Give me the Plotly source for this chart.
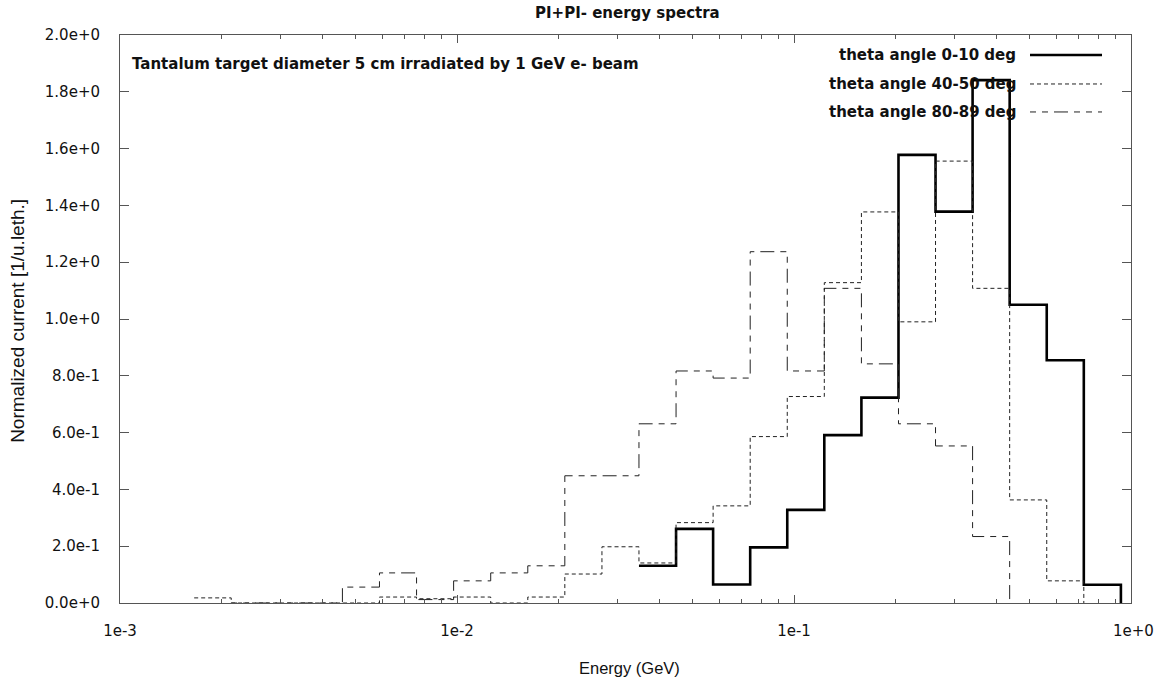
import plotly.graph_objects as go

# Bin edges (GeV), log-spaced
edges = [0.001000, 0.001288, 0.001660, 0.002138, 0.002754, 0.003548, 0.004571,
         0.005888, 0.007586, 0.009772, 0.01259, 0.01622, 0.02089, 0.02692,
         0.03467, 0.04467, 0.05754, 0.07413, 0.09550, 0.1230, 0.1585, 0.2042,
         0.2630, 0.3388, 0.4365, 0.5623, 0.7244, 0.9333]

# theta angle 0-10 deg, bins 14..26
start_0_10 = 14
theta_0_10 = [0.131, 0.261, 0.065, 0.196, 0.328, 0.591, 0.723, 1.578, 1.378,
              1.841, 1.050, 0.855, 0.064]

# theta angle 40-50 deg, bins 2..25
start_40_50 = 2
theta_40_50 = [0.018, 0, 0, 0, 0, 0.021, 0.015, 0.021, 0, 0.021, 0.102, 0.198,
               0.141, 0.283, 0.342, 0.586, 0.727, 1.128, 1.377, 0.990, 1.556,
               1.108, 0.363, 0.078]

# theta angle 80-89 deg, bins 3..23
start_80_89 = 3
theta_80_89 = [0, 0, 0, 0.056, 0.106, 0.012, 0.078, 0.106, 0.131, 0.448, 0.448,
               0.631, 0.817, 0.792, 1.237, 0.817, 1.108, 0.842, 0.631, 0.553,
               0.234]

y_ticks = [0.0, 0.2, 0.4, 0.6, 0.8, 1.0, 1.2, 1.4, 1.6, 1.8, 2.0]
y_ticktext = ["0.0e+0", "2.0e-1", "4.0e-1", "6.0e-1", "8.0e-1", "1.0e+0",
              "1.2e+0", "1.4e+0", "1.6e+0", "1.8e+0", "2.0e+0"]
x_ticks = [0.001, 0.01, 0.1, 1.0]
x_ticktext = ["1e-3", "1e-2", "1e-1", "\u00a0" + "1e+0"]
x_minor = [m * d for d in (0.001, 0.01, 0.1) for m in range(2, 10)]

series = [
    ("theta angle 0-10 deg", start_0_10, theta_0_10, dict(color="#000000", width=2.6, dash="solid")),
    ("theta angle 40-50 deg", start_40_50, theta_40_50, dict(color="#222222", width=1, dash="4px,3px")),
    ("theta angle 80-89 deg", start_80_89, theta_80_89, dict(color="#222222", width=1, dash="6px,6px,6px,6px,14px,6px")),
]

BOLD = "DejaVu Sans"
PLAIN = "Liberation Sans, Arial, sans-serif"

fig = go.Figure()
for name, s, vals, line in series:
    xs = edges[s:s + len(vals) + 1]
    ys = list(vals) + [0]
    fig.add_trace(go.Scatter(x=xs, y=ys, mode="lines", line=line,
                             line_shape="hv", name=name, showlegend=False,
                             hoverinfo="skip"))

# Manual legend (text right-aligned, sample on the right)
L, R, T, B = 120, 1131, 35, 603.3
def px(x):
    return (x - L) / (R - L)
def py(y):
    return (B - y) / (B - T)

rows = [55, 84, 112]
annotations = []
shapes = []
for (name, s, vals, line), ry in zip(series, rows):
    annotations.append(dict(xref="paper", yref="paper", x=px(1018), y=py(ry),
                            text=f"<b>{name}</b>", showarrow=False,
                            xanchor="right", yanchor="middle",
                            font=dict(family=BOLD, size=15, color="#111")))
    shapes.append(dict(type="line", xref="paper", yref="paper",
                       x0=px(1030), x1=px(1102), y0=py(ry), y1=py(ry),
                       line=line))

annotations.append(dict(xref="paper", yref="paper", x=px(130), y=py(64),
                        text="<b>Tantalum target diameter 5 cm irradiated by 1 GeV e- beam</b>",
                        showarrow=False, xanchor="left", yanchor="middle",
                        font=dict(family=BOLD, size=15, color="#111")))
annotations.append(dict(xref="paper", yref="paper", x=px(18), y=py(321),
                        text="Normalized current [1/u.leth.]", textangle=-90,
                        showarrow=False, xanchor="center", yanchor="middle",
                        font=dict(family=PLAIN, size=19, color="#111")))
annotations.append(dict(xref="paper", yref="paper", x=px(629), y=py(668),
                        text="Energy (GeV)",
                        showarrow=False, xanchor="center", yanchor="middle",
                        font=dict(family=PLAIN, size=16.5, color="#111")))
annotations.append(dict(xref="paper", yref="paper", x=px(627), y=py(13),
                        text="<b>PI+PI- energy spectra</b>",
                        showarrow=False, xanchor="center", yanchor="middle",
                        font=dict(family=BOLD, size=15, color="#111")))

fig.update_layout(
    width=1158, height=686,
    margin=dict(l=120, r=1158 - 1131, t=35, b=686 - 603),
    paper_bgcolor="white", plot_bgcolor="white",
    annotations=annotations, shapes=shapes,
    showlegend=False,
)
fig.update_xaxes(
    type="log", range=[-3, 0],
    tickmode="array", tickvals=x_ticks, ticktext=x_ticktext,
    ticks="inside", ticklen=8, tickcolor="#555", tickwidth=1,
    showline=True, linecolor="#555", linewidth=1, mirror="allticks",
    showgrid=False, zeroline=False, automargin=False,
    ticklabeloverflow="allow",
    tickfont=dict(family=BOLD, size=15, color="#111"),
    ticklabelstandoff=14,
    minor=dict(tickmode="array", tickvals=x_minor, ticks="inside",
               ticklen=4, tickcolor="#555", showgrid=False),
)
fig.update_yaxes(
    range=[0, 2.0],
    tickmode="array", tickvals=y_ticks, ticktext=y_ticktext,
    ticks="inside", ticklen=9, tickcolor="#555", tickwidth=1,
    showline=True, linecolor="#555", linewidth=1, mirror="allticks",
    showgrid=False, zeroline=False, automargin=False,
    tickfont=dict(family=BOLD, size=15, color="#111"),
    ticklabelstandoff=16,
)

fig.write_html("out.html")
